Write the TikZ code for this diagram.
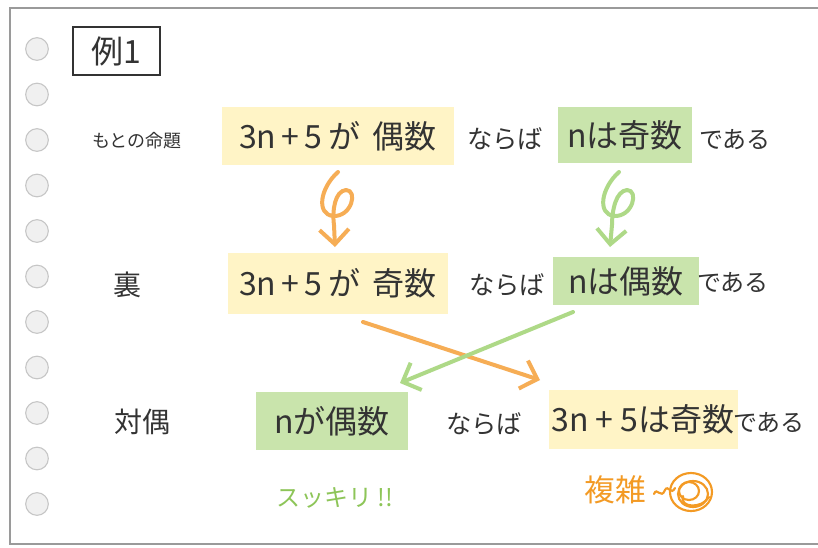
\documentclass[tikz,border=0pt]{standalone}
\usepackage{fontspec}
\newfontfamily\jp{Noto Sans CJK JP}
\usetikzlibrary{arrows.meta}
\definecolor{ybox}{HTML}{FFF4C6}
\definecolor{gbox}{HTML}{C9E4AC}
\definecolor{oarr}{HTML}{F6AD55}
\definecolor{garr}{HTML}{AED987}
\definecolor{ink}{HTML}{333333}
\definecolor{otext}{HTML}{F39A24}
\definecolor{gtext}{HTML}{8DC558}
\definecolor{edge}{HTML}{9A9A9A}
\begin{document}
\begin{tikzpicture}[x=0.75pt,y=-0.75pt,
  every node/.style={text=ink, inner sep=0pt},
  big/.style={font=\jp\fontsize{24}{26}\selectfont},
  ybx/.style={big, fill=ybox},
  gbx/.style={big, fill=gbox},
  conj/.style={font=\jp\fontsize{19}{22}\selectfont},
  tail/.style={font=\jp\fontsize{18}{22}\selectfont},
  lab/.style={font=\jp\fontsize{21}{24}\selectfont},
  hole/.style={circle, draw=gray!45, fill=gray!12, minimum size=17pt, line width=0.8pt},
  arr/.style={line width=3pt, line cap=round, line join=round,
              -{Straight Barb[length=11pt,width=22pt,line width=3pt]}},
  frameline/.style={draw=edge, line width=1.3pt}]
\useasboundingbox (0,0) rectangle (818,547);
\fill[white] (0,0) rectangle (818,547);
% paper edge
\draw[frameline] (818,8) -- (10,8) -- (10,544) -- (818,544);
% punched holes
\foreach \i in {0,...,10} {
  \node[hole] (h\i) at (37,{49+45.5*\i}) {};
}
% title
\node[draw=ink, line width=1.2pt, minimum width=65pt, minimum height=36pt,
      font=\jp\fontsize{24}{26}\selectfont] (title) at (116.5,51) {例1};
% row labels
\node[font=\jp\fontsize{13.5}{15}\selectfont] (lab1) at (137,141) {もとの命題};
\node[lab] (lab2) at (127,285) {裏};
\node[lab] (lab3) at (142,422) {対偶};
% row 1
\node[ybx, minimum width=174pt, minimum height=43.5pt] (y1) at (338,136) {3n\,+\,5\,が\hspace{0.4em}偶数};
\node[conj] (n1) at (505,139) {ならば};
\node[gbx, minimum width=100.5pt, minimum height=42pt] (g1) at (625,135) {nは奇数};
\node[tail] (d1) at (735,140) {である};
% row 2
\node[ybx, minimum width=165pt, minimum height=45.75pt] (y2) at (338,283) {3n\,+\,5\,が\hspace{0.4em}奇数};
\node[conj] (n2) at (507,285) {ならば};
\node[gbx, minimum width=109.5pt, minimum height=36pt] (g2) at (626,281) {nは偶数};
\node[tail] (d2) at (733,283) {である};
% row 3
\node[gbx, minimum width=114pt, minimum height=43.5pt] (g3) at (332,421) {nが偶数};
\node[conj] (n3) at (484,424) {ならば};
\node[ybx, minimum width=141.75pt, minimum height=44.25pt] (y3) at (643,419) {3n + 5は奇数};
\node[tail] (d3) at (769,423) {である};
% comments
\node[font=\jp\fontsize{18}{20}\selectfont, text=gtext] (clear) at (335,498) {スッキリ !!};
\node[font=\jp\fontsize{23}{26}\selectfont, text=otext] (comp) at (615,490) {複雑};
% curly arrows
\coordinate (oa) at (338,172);
\coordinate (ob) at (335,247);
\coordinate (ga) at (619,172);
\coordinate (gb) at (610,247);
\draw[arr, draw=oarr] (oa) .. controls (320,188) and (316,214) .. (333,216)
   .. controls (352,217) and (358,190) .. (346,190)
   .. controls (335,191) and (332,210) .. (334,225) -- (ob);
\draw[arr, draw=garr] (ga) .. controls (601,188) and (597,214) .. (614,216)
   .. controls (633,217) and (639,190) .. (627,190)
   .. controls (616,191) and (612,210) .. (612,225) -- (gb);
% crossing arrows
\coordinate (xo1) at (363,322);
\coordinate (xo2) at (540,380);
\coordinate (xg1) at (573,312);
\coordinate (xg2) at (400,383);
\draw[arr, draw=oarr] (xo1) -- (xo2);
\draw[arr, draw=garr] (xg1) -- (xg2);
% tangle scribble
\coordinate (sc) at (691,492);
\begin{scope}[draw=otext, line width=1.6pt, line cap=round]
\draw (654,494) .. controls (657,486) and (661,500) .. (665,490) .. controls (668,484) and (671,496) .. (675,488);
\draw (sc) ellipse [x radius=21, y radius=19];
\draw ([shift={(2,2)}]sc) ellipse [x radius=15, y radius=13];
\draw ([shift={(-2,-1)}]sc) ellipse [x radius=10, y radius=9];
\draw (683,496) .. controls (679,508) and (702,509) .. (709,497);
\end{scope}
\end{tikzpicture}
\end{document}
